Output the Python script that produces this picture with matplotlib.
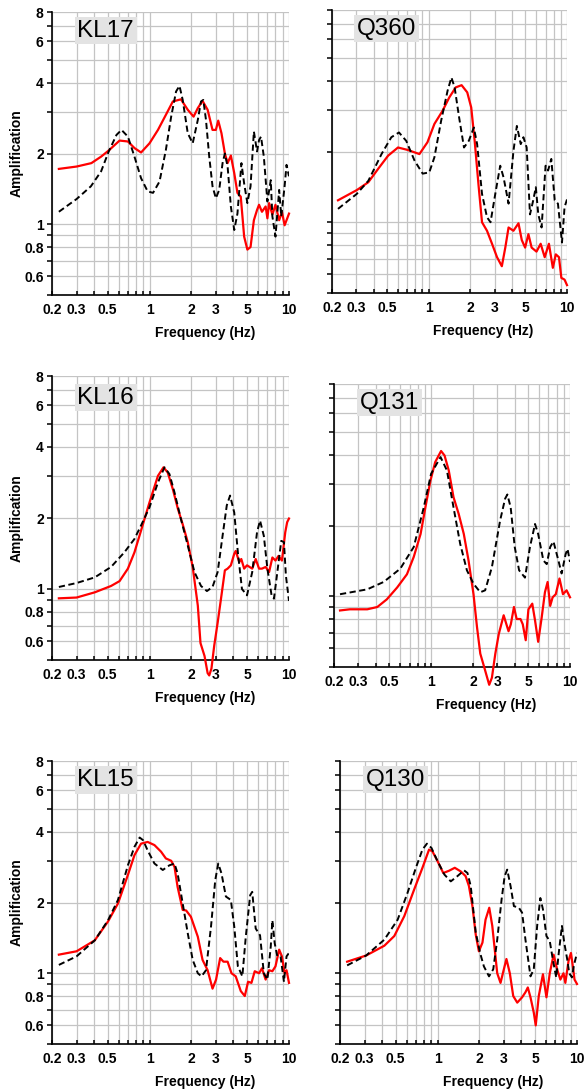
import matplotlib
matplotlib.use('Agg')
import matplotlib.pyplot as plt
from matplotlib.ticker import FixedLocator, FuncFormatter

plt.rcParams['font.family'] = ['Liberation Sans', 'DejaVu Sans']

# ---------------- data ----------------
names = ["KL17", "Q360", "KL16", "Q131", "KL15", "Q130"]

kl17_red_f = [0.224, 0.3, 0.383, 0.45, 0.51, 0.61, 0.70, 0.78, 0.87, 1.0, 1.15, 1.31, 1.47, 1.68, 1.88, 2.07, 2.22, 2.40, 2.61, 2.83, 2.99, 3.11, 3.28, 3.47, 3.63, 3.83, 4.05, 4.27, 4.51, 4.77, 5.03, 5.3, 5.6, 5.9, 6.1, 6.4, 6.8, 7.0, 7.2, 7.6, 8.0, 8.5, 8.9, 9.3, 9.6, 10.0]
kl17_red_a = [1.72, 1.76, 1.82, 1.94, 2.06, 2.27, 2.25, 2.11, 2.02, 2.21, 2.52, 2.92, 3.33, 3.40, 3.07, 2.87, 3.12, 3.35, 3.07, 2.52, 2.52, 2.76, 2.44, 2.00, 1.82, 1.96, 1.65, 1.36, 1.31, 0.886, 0.78, 0.80, 1.04, 1.15, 1.21, 1.13, 1.19, 1.06, 1.23, 1.10, 1.21, 1.04, 1.13, 0.99, 1.04, 1.11]
kl17_blk_f = [0.224, 0.3, 0.38, 0.45, 0.51, 0.58, 0.63, 0.70, 0.78, 0.87, 0.97, 1.06, 1.18, 1.31, 1.43, 1.55, 1.64, 1.73, 1.88, 2.04, 2.22, 2.34, 2.43, 2.54, 2.68, 2.83, 2.99, 3.16, 3.34, 3.47, 3.63, 3.83, 4.05, 4.27, 4.56, 4.77, 5.03, 5.3, 5.6, 5.9, 6.1, 6.3, 6.6, 7.0, 7.4, 7.6, 8.0, 8.5, 8.8, 9.3, 9.6, 10.0]
kl17_blk_a = [1.13, 1.28, 1.45, 1.68, 2.04, 2.40, 2.52, 2.36, 1.94, 1.57, 1.38, 1.36, 1.52, 2.07, 2.87, 3.67, 3.88, 3.38, 2.44, 2.21, 2.78, 3.33, 3.38, 2.78, 1.94, 1.45, 1.29, 1.40, 1.82, 2.00, 1.76, 1.19, 0.945, 1.11, 1.82, 1.49, 1.23, 1.45, 2.48, 2.04, 2.28, 2.36, 1.94, 1.25, 1.54, 1.08, 0.886, 1.40, 1.08, 1.45, 1.79, 1.60]

q360_red_f = [0.221, 0.302, 0.366, 0.432, 0.509, 0.60, 0.707, 0.857, 0.98, 1.10, 1.26, 1.41, 1.57, 1.73, 1.90, 2.03, 2.15, 2.30, 2.43, 2.64, 2.87, 3.12, 3.38, 3.58, 3.78, 4.1, 4.46, 4.71, 4.98, 5.26, 5.55, 6.02, 6.45, 6.9, 7.4, 7.9, 8.3, 8.75, 9.1, 9.6, 10.0]
q360_red_a = [1.24, 1.37, 1.48, 1.69, 1.92, 2.08, 2.03, 1.95, 2.19, 2.62, 2.98, 3.40, 3.75, 3.83, 3.57, 3.08, 2.22, 1.41, 1.00, 0.92, 0.81, 0.71, 0.65, 0.78, 0.95, 0.92, 0.99, 0.84, 0.78, 0.89, 0.78, 0.75, 0.81, 0.71, 0.81, 0.64, 0.73, 0.71, 0.58, 0.57, 0.54]
q360_blk_f = [0.221, 0.302, 0.366, 0.456, 0.537, 0.61, 0.688, 0.79, 0.905, 1.01, 1.10, 1.23, 1.37, 1.46, 1.54, 1.66, 1.80, 1.95, 2.12, 2.24, 2.43, 2.64, 2.80, 3.03, 3.29, 3.48, 3.78, 4.1, 4.34, 4.63, 4.84, 5.11, 5.40, 5.7, 5.95, 6.2, 6.55, 7.0, 7.3, 7.7, 8.15, 8.6, 9.2, 9.6, 10.0]
q360_blk_a = [1.14, 1.32, 1.50, 1.95, 2.30, 2.41, 2.22, 1.83, 1.61, 1.63, 1.89, 2.70, 3.63, 4.13, 3.75, 2.79, 2.08, 2.22, 2.53, 2.15, 1.32, 1.05, 1.00, 1.32, 1.74, 1.55, 1.20, 2.01, 2.57, 2.15, 2.30, 2.08, 1.08, 1.24, 1.41, 1.08, 0.95, 1.74, 1.66, 1.86, 1.24, 1.20, 0.82, 1.16, 1.25]

kl16_red_f = [0.224, 0.3, 0.405, 0.53, 0.61, 0.70, 0.78, 0.87, 1.0, 1.15, 1.26, 1.35, 1.47, 1.60, 1.73, 1.88, 2.04, 2.22, 2.32, 2.48, 2.61, 2.68, 2.78, 2.91, 3.08, 3.28, 3.47, 3.63, 3.83, 4.05, 4.15, 4.4, 4.55, 4.77, 5.0, 5.45, 5.77, 6.1, 6.4, 6.8, 7.2, 7.6, 8.0, 8.4, 8.9, 9.4, 9.7, 10.0]
kl16_red_a = [0.913, 0.92, 0.968, 1.03, 1.08, 1.22, 1.43, 1.77, 2.33, 3.02, 3.28, 3.12, 2.65, 2.18, 1.88, 1.58, 1.24, 0.85, 0.59, 0.52, 0.44, 0.43, 0.46, 0.575, 0.72, 0.94, 1.20, 1.22, 1.26, 1.41, 1.45, 1.30, 1.34, 1.22, 1.26, 1.22, 1.34, 1.22, 1.22, 1.24, 1.18, 1.36, 1.32, 1.38, 1.32, 1.74, 1.92, 1.99]
kl16_blk_f = [0.224, 0.3, 0.405, 0.53, 0.66, 0.78, 0.87, 1.0, 1.15, 1.28, 1.39, 1.51, 1.68, 1.88, 2.1, 2.34, 2.58, 2.83, 3.08, 3.34, 3.58, 3.78, 4.05, 4.3, 4.6, 5.0, 5.45, 5.9, 6.2, 6.6, 7.0, 7.5, 7.8, 8.25, 8.8, 9.2, 9.5, 10.0]
kl16_blk_a = [1.02, 1.06, 1.12, 1.24, 1.43, 1.63, 1.86, 2.22, 2.83, 3.28, 3.07, 2.57, 1.98, 1.53, 1.18, 1.03, 0.98, 1.02, 1.18, 1.68, 2.26, 2.49, 2.11, 1.43, 1.00, 0.94, 1.18, 1.74, 1.95, 1.68, 1.22, 0.94, 0.91, 1.18, 1.60, 1.58, 1.14, 0.89]

q131_red_f = [0.221, 0.26, 0.347, 0.41, 0.48, 0.57, 0.67, 0.75, 0.84, 0.91, 0.99, 1.07, 1.18, 1.25, 1.34, 1.45, 1.58, 1.72, 1.86, 2.02, 2.14, 2.26, 2.41, 2.62, 2.74, 2.90, 3.07, 3.33, 3.61, 3.75, 3.95, 4.13, 4.4, 4.57, 4.8, 5.02, 5.35, 5.6, 5.9, 6.25, 6.6, 6.9, 7.2, 7.5, 7.9, 8.4, 8.9, 9.45, 10.0]
q131_red_a = [0.87, 0.88, 0.88, 0.90, 0.97, 1.09, 1.24, 1.47, 1.84, 2.39, 3.11, 3.72, 4.15, 3.97, 3.43, 2.64, 2.24, 1.84, 1.42, 1.02, 0.74, 0.57, 0.50, 0.42, 0.45, 0.57, 0.69, 0.83, 0.71, 0.76, 0.90, 0.80, 0.80, 0.76, 0.65, 0.88, 0.93, 0.79, 0.64, 0.81, 1.04, 1.15, 0.91, 0.99, 1.02, 1.19, 1.02, 1.06, 0.99]
q131_blk_f = [0.221, 0.347, 0.455, 0.60, 0.75, 0.886, 1.0, 1.17, 1.30, 1.45, 1.62, 1.81, 2.02, 2.26, 2.45, 2.74, 3.14, 3.41, 3.54, 3.74, 4.0, 4.3, 4.74, 5.15, 5.6, 5.9, 6.43, 6.8, 7.2, 7.6, 8.25, 8.7, 9.3, 9.6, 10.0]
q131_blk_a = [1.02, 1.07, 1.15, 1.31, 1.62, 2.39, 3.32, 3.91, 3.43, 2.39, 1.67, 1.29, 1.13, 1.04, 1.06, 1.33, 2.10, 2.60, 2.71, 2.39, 1.62, 1.29, 1.20, 1.62, 2.03, 1.84, 1.42, 1.37, 1.62, 1.71, 1.42, 1.25, 1.51, 1.59, 1.40]

kl15_red_f = [0.224, 0.3, 0.405, 0.504, 0.594, 0.70, 0.78, 0.87, 0.97, 1.085, 1.21, 1.31, 1.43, 1.51, 1.59, 1.73, 1.83, 1.98, 2.22, 2.40, 2.61, 2.83, 3.0, 3.21, 3.39, 3.63, 3.87, 4.15, 4.51, 4.82, 5.09, 5.38, 5.68, 6.1, 6.4, 6.8, 7.2, 7.6, 8.0, 8.5, 8.9, 9.3, 9.6, 10.0]
kl15_red_a = [1.20, 1.24, 1.38, 1.66, 1.98, 2.62, 3.18, 3.56, 3.62, 3.51, 3.29, 3.08, 3.01, 2.84, 2.33, 1.86, 1.85, 1.74, 1.43, 1.14, 1.03, 0.86, 0.94, 1.16, 1.12, 1.12, 1.00, 0.97, 0.84, 0.80, 0.92, 0.91, 1.02, 1.00, 1.05, 0.94, 1.03, 1.02, 1.07, 1.26, 1.18, 1.00, 1.03, 0.91]
kl15_blk_f = [0.224, 0.3, 0.405, 0.504, 0.594, 0.70, 0.78, 0.85, 0.90, 0.97, 1.085, 1.245, 1.39, 1.51, 1.59, 1.73, 1.88, 2.04, 2.22, 2.36, 2.54, 2.76, 2.96, 3.11, 3.28, 3.53, 3.83, 4.05, 4.3, 4.63, 4.9, 5.27, 5.45, 5.77, 6.2, 6.6, 7.0, 7.4, 7.6, 7.9, 8.25, 8.7, 9.2, 9.6, 10.0]
kl15_blk_a = [1.085, 1.18, 1.38, 1.68, 2.05, 2.88, 3.45, 3.78, 3.68, 3.33, 2.93, 2.75, 2.88, 2.93, 2.66, 1.98, 1.48, 1.14, 1.00, 0.97, 1.03, 1.58, 2.49, 2.93, 2.66, 2.12, 2.05, 1.58, 1.07, 0.97, 1.43, 2.15, 2.22, 1.55, 1.45, 1.00, 0.94, 1.30, 1.68, 1.34, 1.18, 1.18, 0.92, 1.18, 1.22]

q130_red_f = [0.225, 0.308, 0.416, 0.49, 0.578, 0.68, 0.78, 0.87, 0.92, 1.0, 1.10, 1.21, 1.33, 1.47, 1.59, 1.68, 1.78, 1.88, 1.98, 2.10, 2.21, 2.35, 2.47, 2.68, 2.83, 2.99, 3.12, 3.30, 3.49, 3.73, 4.04, 4.27, 4.44, 4.64, 4.9, 5.06, 5.32, 5.7, 6.04, 6.38, 6.8, 7.2, 7.6, 8.0, 8.25, 8.7, 9.05, 9.4, 9.6, 10.0]
q130_red_a = [1.12, 1.19, 1.31, 1.44, 1.75, 2.27, 2.81, 3.36, 3.30, 3.00, 2.67, 2.73, 2.81, 2.71, 2.59, 2.35, 1.93, 1.46, 1.24, 1.35, 1.69, 1.90, 1.59, 1.00, 0.91, 1.04, 1.15, 1.00, 0.80, 0.75, 0.79, 0.83, 0.87, 0.79, 0.68, 0.60, 0.80, 0.99, 0.79, 1.00, 1.20, 1.04, 0.94, 1.00, 0.91, 1.13, 1.22, 1.04, 0.94, 0.90]
q130_blk_f = [0.225, 0.308, 0.416, 0.518, 0.61, 0.70, 0.78, 0.84, 0.906, 1.0, 1.12, 1.245, 1.39, 1.55, 1.64, 1.73, 1.88, 2.02, 2.15, 2.34, 2.51, 2.68, 2.88, 3.03, 3.16, 3.34, 3.53, 3.83, 4.04, 4.27, 4.64, 4.9, 5.18, 5.46, 5.7, 6.04, 6.38, 6.7, 7.1, 7.4, 7.8, 8.1, 8.5, 8.8, 9.2, 9.5, 10.0]
q130_blk_a = [1.08, 1.19, 1.39, 1.69, 2.20, 2.81, 3.36, 3.56, 3.41, 3.00, 2.63, 2.46, 2.59, 2.74, 2.67, 2.35, 1.49, 1.22, 1.07, 0.97, 1.04, 1.39, 2.06, 2.59, 2.76, 2.35, 1.93, 1.90, 1.81, 1.39, 0.97, 1.04, 1.59, 2.09, 1.87, 1.44, 1.37, 1.15, 0.96, 1.22, 1.59, 1.35, 1.15, 1.00, 0.96, 1.08, 1.22]

red_f = [kl17_red_f, q360_red_f, kl16_red_f, q131_red_f, kl15_red_f, q130_red_f]
red_a = [kl17_red_a, q360_red_a, kl16_red_a, q131_red_a, kl15_red_a, q130_red_a]
blk_f = [kl17_blk_f, q360_blk_f, kl16_blk_f, q131_blk_f, kl15_blk_f, q130_blk_f]
blk_a = [kl17_blk_a, q360_blk_a, kl16_blk_a, q131_blk_a, kl15_blk_a, q130_blk_a]

x_ticks = [0.2, 0.3, 0.4, 0.5, 0.6, 0.7, 0.8, 0.9, 1, 2, 3, 4, 5, 6, 7, 8, 9, 10]
x_labels = {0.2: "0.2", 0.3: "0.3", 0.5: "0.5", 1: "1", 2: "2", 3: "3", 5: "5", 10: "10"}
y_ticks = [0.5, 0.6, 0.7, 0.8, 0.9, 1, 2, 3, 4, 5, 6, 7, 8]
y_labels = {0.6: "0.6", 0.8: "0.8", 1: "1", 2: "2", 4: "4", 6: "6", 8: "8"}

# ---------------- layout ----------------
W, H = 584, 1090
fig = plt.figure(figsize=(W / 100, H / 100), dpi=100)

# axes boxes in pixels: left, top, right, bottom
boxes = [(52, 12, 289, 295), (332, 10, 567, 293),
         (52, 376, 289, 660), (334, 384, 570, 667),
         (52, 761, 289, 1044), (340, 761, 577, 1044)]
label_pos = [(0.226, 0.934), (0.233, 0.934), (0.226, 0.924),
             (0.235, 0.934), (0.226, 0.933), (0.235, 0.934)]

for i, (l, t, r, b) in enumerate(boxes):
    ax = fig.add_axes([l / W, 1 - b / H, (r - l) / W, (b - t) / H])
    ax.set_xscale('log')
    ax.set_yscale('log')
    ax.set_xlim(0.2, 10)
    ax.set_ylim(0.5, 8)

    ax.plot(red_f[i], red_a[i], color='#ff0000', lw=1.6, clip_on=False, zorder=3)
    ax.plot(blk_f[i], blk_a[i], color='black', lw=1.4, ls=(0, (3.2, 1.8)), zorder=4)

    ax.xaxis.set_major_locator(FixedLocator(x_ticks))
    ax.yaxis.set_major_locator(FixedLocator(y_ticks))
    ax.xaxis.set_minor_locator(FixedLocator([]))
    ax.yaxis.set_minor_locator(FixedLocator([]))
    ax.xaxis.set_major_formatter(FuncFormatter(lambda v, p: x_labels.get(round(v, 3), "")))
    if i % 2 == 0:
        ax.yaxis.set_major_formatter(FuncFormatter(lambda v, p: y_labels.get(round(v, 3), "")))
        ax.set_ylabel("Amplification", fontsize=10, fontweight='bold', va='center')
        ax.yaxis.set_label_coords(-35 / (r - l), 0.5)
    else:
        ax.yaxis.set_major_formatter(FuncFormatter(lambda v, p: ""))

    ax.set_xlabel("Frequency (Hz)", fontsize=10, fontweight='bold', va='center')
    ax.xaxis.set_label_coords(0.645, -38 / (b - t))

    ax.tick_params(axis='y', which='major', direction='out', length=3.5,
                   width=1.1, labelsize=10, pad=2.5)
    ax.tick_params(axis='x', which='major', direction='in', length=3,
                   width=1.1, labelsize=10, pad=6)
    for lab in ax.get_xticklabels() + ax.get_yticklabels():
        lab.set_fontweight('bold')

    ax.grid(True, which='major', color='#c4c4c4', lw=0.9)
    ax.set_axisbelow(True)
    for s in ['top', 'right']:
        ax.spines[s].set_visible(False)
    for s in ['left', 'bottom']:
        ax.spines[s].set_linewidth(1.2)

    ax.text(label_pos[i][0], label_pos[i][1], names[i], transform=ax.transAxes,
            fontsize=17.5, ha='center', va='center', zorder=6,
            bbox=dict(facecolor='#e3e3e3', edgecolor='none', pad=2))

fig.savefig('out.png', dpi=100)
